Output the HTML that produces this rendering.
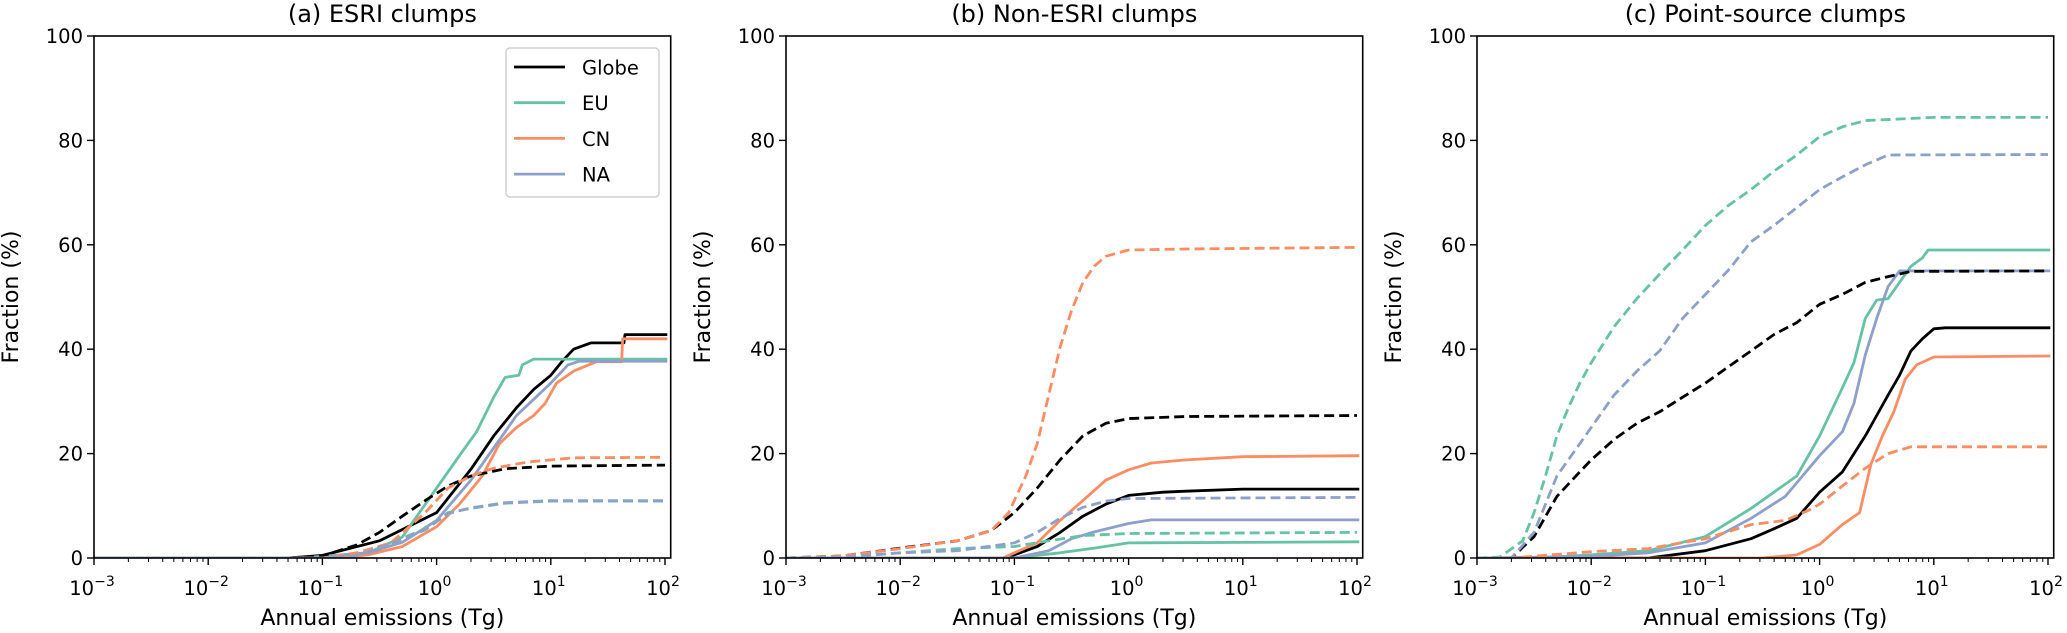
<!DOCTYPE html>
<html><head><meta charset="utf-8"><style>
html,body{margin:0;padding:0;background:#fff;}
svg{display:block;font-family:"DejaVu Sans","Liberation Sans",sans-serif;}
</style></head>
<body>
<svg id="fig" width="2067" height="633" viewBox="0 0 2067 633" xmlns="http://www.w3.org/2000/svg"></svg>
<script>
// ---- data (x = log10 annual emissions in Tg, y = fraction %) ----
const panelTitles = ["(a) ESRI clumps", "(b) Non-ESRI clumps", "(c) Point-source clumps"];
const yTicks = [0, 20, 40, 60, 80, 100];
const xTickExps = [-3, -2, -1, 0, 1, 2];
const legendLabels = ["Globe", "EU", "CN", "NA"];

// Panel (a)
const a_globe_solid_x = [-3, -1.3, -1, -0.5, 0, 0.3, 0.5, 0.7, 0.85, 1.0, 1.1, 1.2, 1.35, 1.64, 1.65, 2.02];
const a_globe_solid_y = [0, 0, 0.5, 3.3, 8.7, 17, 23.4, 28.8, 32.3, 35, 37.7, 40, 41.2, 41.2, 42.8, 42.8];
const a_eu_solid_x = [-3, -1.2, -0.6, -0.3, 0, 0.2, 0.35, 0.5, 0.6, 0.72, 0.75, 0.85, 2.02];
const a_eu_solid_y = [0, 0, 1, 4, 13.4, 19.6, 24.2, 30.8, 34.6, 35, 37, 38.1, 38.1];
const a_cn_solid_x = [-3, -0.9, -0.6, -0.3, 0, 0.2, 0.4, 0.55, 0.7, 0.85, 0.95, 1.05, 1.2, 1.4, 1.62, 1.63, 2.02];
const a_cn_solid_y = [0, 0, 0.6, 2.2, 6, 10.3, 15.7, 21.9, 25, 27.3, 29.6, 33.5, 35.8, 37.6, 37.6, 42, 42];
const a_na_solid_x = [-3, -1.1, -0.6, -0.3, 0, 0.3, 0.5, 0.7, 0.85, 1.0, 1.15, 1.25, 2.02];
const a_na_solid_y = [0, 0, 1, 3, 7.2, 14.9, 21.1, 27.3, 30.4, 33.5, 37, 37.7, 37.7];
const a_globe_dash_x = [-3, -1.3, -1.0, -0.7, -0.5, -0.3, -0.1, 0.1, 0.3, 0.6, 1.0, 2.0];
const a_globe_dash_y = [0, 0, 0.4, 2.5, 4.9, 8, 11, 13.8, 15.7, 17.1, 17.6, 17.8];
const a_cn_dash_x = [-3, -1.0, -0.7, -0.4, -0.1, 0.1, 0.3, 0.5, 0.8, 1.2, 2.0];
const a_cn_dash_y = [0, 0, 1, 2.9, 8.7, 13.4, 15.7, 17.2, 18.4, 19.2, 19.3];
const a_eu_dash_x = [-3, -1.0, -0.7, -0.4, -0.1, 0.1, 0.3, 0.6, 1.0, 2.0];
const a_eu_dash_y = [0, 0, 0.6, 2.9, 5.6, 8.7, 9.5, 10.5, 10.9, 10.9];
const a_na_dash_x = [-3, -1.0, -0.7, -0.4, -0.1, 0.1, 0.3, 0.6, 1.0, 2.0];
const a_na_dash_y = [0, 0, 0.5, 2.7, 5.4, 8.5, 9.6, 10.6, 11.0, 11.0];

// Panel (b)
const b_globe_solid_x = [-3, -1.1, -1, -0.8, -0.6, -0.4, -0.2, 0, 0.3, 0.5, 1, 2.02];
const b_globe_solid_y = [0, 0, 0.6, 2.2, 4.9, 8, 10.3, 12, 12.6, 12.8, 13.2, 13.2];
const b_eu_solid_x = [-3, -1.0, -0.6, -0.3, 0, 2.02];
const b_eu_solid_y = [0, 0, 1, 1.9, 2.9, 3.1];
const b_cn_solid_x = [-3, -1.1, -1, -0.8, -0.6, -0.4, -0.2, 0, 0.2, 0.5, 1, 2.02];
const b_cn_solid_y = [0, 0, 1, 2.9, 7.2, 11, 14.9, 16.9, 18.2, 18.8, 19.4, 19.6];
const b_na_solid_x = [-3, -1.0, -0.7, -0.5, -0.3, 0, 0.2, 2.02];
const b_na_solid_y = [0, 0, 1.4, 3.7, 5, 6.6, 7.3, 7.3];
const b_globe_dash_x = [-3, -2.5, -2, -1.5, -1.2, -1.0, -0.8, -0.6, -0.4, -0.2, 0, 0.5, 2.0];
const b_globe_dash_y = [0, 0.4, 1.9, 3.3, 5.3, 8.7, 13.4, 18.8, 23.4, 25.8, 26.7, 27.1, 27.3];
const b_eu_dash_x = [-3, -2.5, -2, -1.5, -1, -0.7, -0.4, 0, 2.0];
const b_eu_dash_y = [0, 0.2, 1, 1.8, 2.2, 3.3, 4.3, 4.7, 4.9];
const b_cn_dash_x = [-3, -2.5, -2, -1.5, -1.2, -1.05, -0.9, -0.8, -0.7, -0.6, -0.5, -0.4, -0.3, -0.2, 0, 0.5, 2.0];
const b_cn_dash_y = [0, 0.4, 1.8, 3.3, 5.3, 8.7, 15.7, 21.9, 31.2, 40.4, 47.4, 52.8, 55.9, 57.8, 59, 59.2, 59.5];
const b_na_dash_x = [-3, -2.5, -2, -1.5, -1.0, -0.8, -0.6, -0.4, -0.2, 0, 2.0];
const b_na_dash_y = [0, 0.2, 1, 1.4, 2.9, 4.9, 7.6, 9.7, 10.9, 11.4, 11.6];

// Panel (c)
const c_globe_solid_x = [-3, -1.5, -1, -0.6, -0.4, -0.2, 0, 0.2, 0.4, 0.5, 0.6, 0.7, 0.8, 0.9, 1.0, 1.1, 2.02];
const c_globe_solid_y = [0, 0, 1.4, 3.7, 5.6, 7.6, 12.6, 16.5, 23.4, 27.3, 31.2, 35, 39.7, 42, 43.9, 44.1, 44.1];
const c_eu_solid_x = [-3, -2.5, -2, -1.5, -1, -0.6, -0.4, -0.2, 0, 0.1, 0.2, 0.3, 0.4, 0.5, 0.6, 0.7, 0.8, 0.9, 0.95, 2.02];
const c_eu_solid_y = [0, 0, 0.6, 1.4, 4.1, 9.5, 12.6, 15.7, 23.4, 28, 32.6, 37.4, 45.9, 49.4, 49.7, 52.8, 55.9, 57.5, 59, 59];
const c_cn_solid_x = [-3, -0.5, -0.2, 0, 0.2, 0.35, 0.45, 0.55, 0.65, 0.75, 0.85, 1.0, 2.02];
const c_cn_solid_y = [0, 0, 0.6, 2.6, 6.4, 8.7, 18, 23.4, 28, 34.3, 37, 38.5, 38.7];
const c_na_solid_x = [-3, -2, -1.5, -1, -0.6, -0.3, 0, 0.2, 0.3, 0.4, 0.5, 0.6, 0.7, 2.02];
const c_na_solid_y = [0, 0.3, 1, 2.9, 7.6, 11.8, 19.6, 24.2, 29.6, 38.9, 45.9, 52, 55, 55];
const c_globe_dash_x = [-3, -2.7, -2.5, -2.3, -2.1, -2.0, -1.8, -1.6, -1.4, -1.2, -1.0, -0.8, -0.6, -0.4, -0.2, 0, 0.2, 0.4, 0.6, 0.8, 2.0];
const c_globe_dash_y = [0, 0, 4.1, 11.8, 16.5, 18.8, 22.7, 25.8, 28, 30.8, 33.5, 36.6, 39.7, 42.8, 45.1, 48.6, 50.5, 52.8, 53.9, 54.9, 55];
const c_eu_dash_x = [-3, -2.8, -2.6, -2.5, -2.4, -2.3, -2.2, -2.1, -2.0, -1.8, -1.6, -1.4, -1.2, -1.0, -0.8, -0.6, -0.4, -0.2, 0, 0.2, 0.4, 0.7, 1.0, 2.0];
const c_eu_dash_y = [0, 0.2, 3.3, 8.7, 15.7, 23.4, 28.8, 33.5, 37.4, 44.3, 49.7, 54.4, 59, 63.7, 67.5, 70.6, 74.1, 77.2, 80.7, 82.6, 83.8, 84.1, 84.4, 84.4];
const c_cn_dash_x = [-3, -2.7, -2, -1.5, -1, -0.6, -0.3, -0.1, 0, 0.2, 0.4, 0.6, 0.8, 2.0];
const c_cn_dash_y = [0, 0, 1.2, 1.8, 3.7, 6.4, 7.2, 9.1, 10.3, 13.8, 17.2, 20, 21.3, 21.3];
const c_na_dash_x = [-3, -2.7, -2.5, -2.3, -2.1, -2.0, -1.8, -1.6, -1.4, -1.2, -1.0, -0.8, -0.6, -0.4, -0.2, 0, 0.2, 0.4, 0.6, 2.0];
const c_na_dash_y = [0, 0, 4.9, 15.7, 21.9, 25, 31.2, 35.8, 39.7, 45.9, 50.5, 55.1, 60.6, 63.7, 67.1, 70.6, 73, 75.3, 77.2, 77.3];

const COLORS = {globe: "#000000", eu: "#66c2a5", cn: "#fc8d62", na: "#8da0cb"};
const panelSeries = [
  [["globe","solid",a_globe_solid_x,a_globe_solid_y],["eu","solid",a_eu_solid_x,a_eu_solid_y],["cn","solid",a_cn_solid_x,a_cn_solid_y],["na","solid",a_na_solid_x,a_na_solid_y],
   ["globe","dash",a_globe_dash_x,a_globe_dash_y],["eu","dash",a_eu_dash_x,a_eu_dash_y],["cn","dash",a_cn_dash_x,a_cn_dash_y],["na","dash",a_na_dash_x,a_na_dash_y]],
  [["globe","solid",b_globe_solid_x,b_globe_solid_y],["eu","solid",b_eu_solid_x,b_eu_solid_y],["cn","solid",b_cn_solid_x,b_cn_solid_y],["na","solid",b_na_solid_x,b_na_solid_y],
   ["globe","dash",b_globe_dash_x,b_globe_dash_y],["eu","dash",b_eu_dash_x,b_eu_dash_y],["cn","dash",b_cn_dash_x,b_cn_dash_y],["na","dash",b_na_dash_x,b_na_dash_y]],
  [["globe","solid",c_globe_solid_x,c_globe_solid_y],["eu","solid",c_eu_solid_x,c_eu_solid_y],["cn","solid",c_cn_solid_x,c_cn_solid_y],["na","solid",c_na_solid_x,c_na_solid_y],
   ["globe","dash",c_globe_dash_x,c_globe_dash_y],["eu","dash",c_eu_dash_x,c_eu_dash_y],["cn","dash",c_cn_dash_x,c_cn_dash_y],["na","dash",c_na_dash_x,c_na_dash_y]]
];

// ---- layout ----
const NS = "http://www.w3.org/2000/svg";
const svg = document.getElementById("fig");
const panelLeft = [94, 786, 1477];
const TOP = 36, BOTTOM = 558, DEC = 114.2, XMIN = -3, XMAX = 2.05;

function mk(tag, attrs, parent) {
  const e = document.createElementNS(NS, tag);
  for (const k in attrs) e.setAttribute(k, attrs[k]);
  (parent || svg).appendChild(e);
  return e;
}

panelTitles.forEach((title, p) => {
  const L = panelLeft[p];
  const R = L + (XMAX - XMIN) * DEC;
  const sx = v => L + (v - XMIN) * DEC;
  const sy = v => BOTTOM - v / 100 * (BOTTOM - TOP);
  const g = mk("g", {});
  
  

  const t = mk("text", {x: (L + R) / 2, y: 22, "text-anchor": "middle", "font-size": 24, fill: "#000"}, g);
  t.textContent = title;
  
  

  const cp = mk("clipPath", {id: "clip" + p}, g);
  mk("rect", {x: L, y: TOP - 2, width: R - L, height: BOTTOM - TOP + 2}, cp);

  const sg = mk("g", {"clip-path": "url(#clip" + p + ")"}, g);
  panelSeries[p].forEach(s => {
    const [region, style, xs, ys] = s;
    const pts = xs.map((x, i) => sx(x).toFixed(1) + "," + sy(ys[i]).toFixed(1)).join(" ");
    const pl = mk("polyline", {points: pts, fill: "none", stroke: COLORS[region], "stroke-width": 2.8,
      "stroke-linejoin": "round", "stroke-dasharray": style === "dash" ? "10,5" : "none"}, sg);
    
    
  });

  const fr = mk("rect", {x: L, y: TOP, width: R - L, height: BOTTOM - TOP, fill: "none", stroke: "#000", "stroke-width": 1.6}, g);
  
  

  yTicks.forEach(v => {
    const y = sy(v);
    mk("line", {x1: L - 7, x2: L, y1: y, y2: y, stroke: "#000", "stroke-width": 1.4}, g);
    const tl = mk("text", {x: L - 11, y: y + 7, "text-anchor": "end", "font-size": 19.5, fill: "#000"}, g);
    tl.textContent = v;
    
    
  });

  xTickExps.forEach(e => {
    const x = sx(e);
    mk("line", {x1: x, x2: x, y1: BOTTOM, y2: BOTTOM + 7, stroke: "#000", "stroke-width": 1.4}, g);
    const tl = mk("text", {x: x - 2, y: 595, "text-anchor": "middle", "font-size": 19.5, fill: "#000"}, g);
    const base = mk("tspan", {}, tl); base.textContent = "10";
    const sup = mk("tspan", {dy: -9, "font-size": 14}, tl); sup.textContent = e < 0 ? "\u2212" + (-e) : String(e);
    
    
    if (e < 2) {
      for (let m = 2; m <= 9; m++) {
        const mx = sx(e + Math.log10(m));
        mk("line", {x1: mx, x2: mx, y1: BOTTOM, y2: BOTTOM + 4, stroke: "#000", "stroke-width": 1}, g);
      }
    }
  });

  const xl = mk("text", {x: (L + R) / 2, y: 625, "text-anchor": "middle", "font-size": 22, fill: "#000"}, g);
  xl.textContent = "Annual emissions (Tg)";
  
  
  const yc = (TOP + BOTTOM) / 2;
  const yl = mk("text", {x: L - 76, y: yc, "text-anchor": "middle", "font-size": 22, fill: "#000",
    transform: "rotate(-90 " + (L - 76) + " " + yc + ")"}, g);
  yl.textContent = "Fraction (%)";
  
  

  if (p === 0) {
    const lg = mk("g", {}, g);
    
    
    mk("rect", {x: 506, y: 48, width: 153, height: 149, rx: 4, fill: "#fff", stroke: "#d0d0d0", "stroke-width": 1.5}, lg);
    const keys = ["globe", "eu", "cn", "na"];
    legendLabels.forEach((lab, i) => {
      const y = 67 + i * 35.7;
      const ln = mk("line", {x1: 514, x2: 565, y1: y, y2: y, stroke: COLORS[keys[i]], "stroke-width": 2.8}, lg);
      
      
      const tx = mk("text", {x: 582, y: y + 7.5, "font-size": 19.5, fill: "#000"}, lg);
      tx.textContent = lab;
      
      
    });
  }
});
</script>
</body></html>
